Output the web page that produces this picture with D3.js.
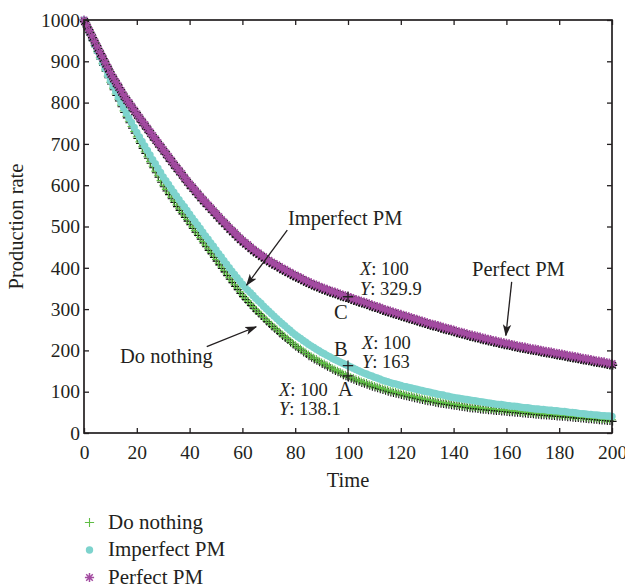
<!DOCTYPE html>
<html>
<head>
<meta charset="utf-8">
<script src="https://cdn.jsdelivr.net/npm/d3@7"></script>
<style>
  html, body { margin: 0; padding: 0; background: #fff; }
  svg { display: block; }
  text { font-family: "Liberation Serif", "Times New Roman", serif; fill: #231f20; }
</style>
</head>
<body>
<svg id="chart" width="625" height="588"></svg>
<script>
// Tick values
const xTicks = [0, 20, 40, 60, 80, 100, 120, 140, 160, 180, 200];
const yTicks = [0, 100, 200, 300, 400, 500, 600, 700, 800, 900, 1000];

// Production rate per unit of time, t = 0 .. 200
const doNothing = [
  1000, 985, 970, 954, 939, 924, 909, 894, 879, 864,
  849, 835, 821, 808, 794, 780, 767, 755, 742, 730,
  717, 705, 693, 681, 669, 657, 646, 634, 623, 611,
  600, 590, 581, 571, 562, 552, 543, 534, 526, 517,
  508, 499, 490, 482, 473, 464, 455, 446, 438, 429,
  420, 411, 402, 394, 385, 376, 368, 359, 351, 342,
  334, 327, 320, 313, 306, 299, 293, 287, 280, 274,
  268, 262, 256, 251, 245, 239, 234, 229, 223, 218,
  213, 208, 204, 199, 195, 190, 186, 182, 179, 175,
  171, 168, 164, 161, 157, 154, 151, 148, 144, 141,
  138.1, 135, 133, 130, 128, 125, 123, 121, 118, 116,
  114, 112, 110, 108, 106, 104, 102, 101, 99, 98,
  96, 94, 93, 91, 90, 88, 87, 85, 84, 82,
  81, 80, 79, 77, 76, 75, 74, 73, 72, 71,
  70, 69, 68, 67, 66, 65, 64, 63, 63, 62,
  61, 60, 60, 59, 59, 58, 57, 57, 56, 56,
  55, 54, 54, 53, 53, 52, 51, 51, 50, 50,
  49, 48, 48, 47, 47, 46, 46, 45, 45, 44,
  44, 43, 43, 42, 42, 41, 40, 40, 39, 39,
  38, 37, 37, 36, 36, 35, 34, 34, 33, 33,
  32
];

const imperfectPM = [
  1000, 985, 970, 955, 940, 925, 911, 896, 882, 867,
  853, 840, 827, 813, 800, 787, 775, 763, 752, 740,
  728, 717, 706, 695, 684, 673, 662, 652, 641, 631,
  620, 611, 602, 592, 583, 574, 565, 556, 548, 539,
  530, 521, 512, 504, 495, 486, 477, 469, 460, 452,
  443, 434, 426, 417, 409, 400, 392, 384, 376, 368,
  360, 353, 346, 340, 333, 326, 320, 314, 307, 301,
  295, 289, 283, 277, 271, 265, 260, 254, 249, 243,
  238, 233, 229, 224, 220, 215, 211, 207, 203, 199,
  195, 192, 188, 185, 181, 178, 175, 172, 169, 166,
  163, 160, 157, 154, 151, 148, 145, 143, 140, 138,
  135, 133, 131, 128, 126, 124, 122, 120, 119, 117,
  115, 113, 112, 110, 109, 107, 106, 104, 103, 101,
  100, 99, 97, 96, 94, 93, 92, 90, 89, 87,
  86, 85, 84, 83, 82, 81, 80, 79, 78, 77,
  76, 75, 74, 73, 72, 71, 70, 69, 69, 68,
  67, 66, 65, 65, 64, 63, 62, 61, 61, 60,
  59, 58, 58, 57, 57, 56, 55, 55, 54, 54,
  53, 52, 52, 51, 50, 50, 49, 48, 47, 47,
  46, 45, 45, 44, 44, 43, 42, 42, 41, 41,
  40
];

const perfectPM = [
  1000, 987, 974, 961, 948, 935, 922, 910, 897, 885,
  872, 861, 850, 840, 829, 818, 809, 800, 791, 782,
  773, 764, 755, 747, 738, 729, 720, 712, 703, 695,
  686, 678, 669, 661, 652, 644, 636, 628, 619, 611,
  603, 596, 588, 581, 573, 566, 559, 552, 545, 538,
  531, 524, 517, 511, 504, 497, 491, 485, 478, 472,
  466, 461, 456, 450, 445, 440, 436, 431, 427, 422,
  418, 414, 410, 407, 403, 399, 396, 392, 389, 385,
  382, 379, 376, 372, 369, 366, 363, 360, 358, 355,
  352, 350, 348, 345, 343, 341, 339, 336, 334, 332,
  329.9, 328, 325, 323, 321, 319, 317, 315, 312, 310,
  308, 306, 304, 301, 299, 297, 295, 293, 291, 289,
  287, 285, 283, 281, 279, 277, 275, 273, 271, 269,
  267, 265, 263, 262, 260, 258, 256, 254, 253, 251,
  249, 247, 245, 244, 242, 240, 238, 237, 235, 234,
  232, 230, 229, 227, 226, 224, 223, 221, 220, 218,
  217, 216, 214, 213, 211, 210, 209, 208, 206, 205,
  204, 203, 202, 200, 199, 198, 197, 196, 194, 193,
  192, 191, 190, 188, 187, 186, 185, 184, 182, 181,
  180, 179, 178, 176, 175, 174, 173, 172, 170, 169,
  168
];

const time = d3.range(0, doNothing.length);
const probeTime = 100;

const svg = d3.select("#chart");
const ink = "#231f20";
const colGreen = "#5fbd45";
const colCyan = "#7dd3cd";
const colPurple = "#a34ba1";

const margin = { left: 84, right: 13, top: 20, bottom: 155 };
const W = 625, H = 588;
const x = d3.scaleLinear().domain([0, 200]).range([margin.left, W - margin.right]);
const y = d3.scaleLinear().domain([0, 1000]).range([H - margin.bottom, margin.top]);

// marker shapes
const plusPath = r => `M${-r},0H${r}M0,${-r}V${r}`;
const starPath = (r, d) => `M${-r},0H${r}M0,${-r}V${r}M${-d},${-d}L${d},${d}M${-d},${d}L${d},${-d}`;

function drawSeries(values, opts) {
  const g = svg.append("g");
  if (opts.shadow) {
    g.append("g").attr("transform", "translate(0.6,1.6)")
      .selectAll("path").data(time).join("path")
      .attr("transform", t => `translate(${x(t)},${y(values[t])})`)
      .attr("d", opts.path)
      .attr("fill", "none").attr("stroke", "#111").attr("stroke-width", opts.sw);
  }
  if (opts.circle) {
    g.selectAll("circle").data(time).join("circle")
      .attr("cx", t => x(t)).attr("cy", t => y(values[t]))
      .attr("r", opts.r).attr("fill", opts.color);
  } else {
    g.append("g").selectAll("path").data(time).join("path")
      .attr("transform", t => `translate(${x(t)},${y(values[t])})`)
      .attr("d", opts.path)
      .attr("fill", "none").attr("stroke", opts.color).attr("stroke-width", opts.sw);
  }
}

drawSeries(doNothing, { path: plusPath(4), color: colGreen, sw: 1.1, shadow: true });
drawSeries(imperfectPM, { circle: true, r: 3.7, color: colCyan });
drawSeries(perfectPM, { path: starPath(4.6, 3.3), color: colPurple, sw: 1.5, shadow: true });

// axes with inward ticks on all four sides
const tickFont = "19.5px";
const gB = svg.append("g").attr("transform", `translate(0,${y(0)})`)
  .call(d3.axisBottom(x).tickValues(xTicks).tickSizeInner(-5).tickSizeOuter(0).tickPadding(12).tickFormat(d3.format("d")));
const gT = svg.append("g").attr("transform", `translate(0,${y(1000)})`)
  .call(d3.axisTop(x).tickValues(xTicks).tickSizeInner(-5).tickSizeOuter(0).tickFormat(""));
const gL = svg.append("g").attr("transform", `translate(${x(0)},0)`)
  .call(d3.axisLeft(y).tickValues(yTicks).tickSizeInner(-5).tickSizeOuter(0).tickPadding(4).tickFormat(d3.format("d")));
const gR = svg.append("g").attr("transform", `translate(${x(200)},0)`)
  .call(d3.axisRight(y).tickValues(yTicks).tickSizeInner(-5).tickSizeOuter(0).tickFormat(""));
[gB, gT, gL, gR].forEach(g => {
  g.select(".domain").remove();
  g.selectAll(".tick line").attr("stroke", ink).attr("stroke-width", 1.3);
  g.selectAll(".tick text").attr("fill", ink)
    .style("font-family", '"Liberation Serif", "Times New Roman", serif')
    .style("font-size", tickFont);
});

svg.append("rect")
  .attr("x", x(0)).attr("y", y(1000))
  .attr("width", x(200) - x(0)).attr("height", y(0) - y(1000))
  .attr("fill", "none").attr("stroke", ink).attr("stroke-width", 1.7);

// axis titles
svg.append("text").attr("x", (x(0) + x(200)) / 2).attr("y", 487)
  .attr("text-anchor", "middle").style("font-size", "20.5px").text("Time");
svg.append("text")
  .attr("transform", `translate(23,${(y(0) + y(1000)) / 2}) rotate(-90)`)
  .attr("text-anchor", "middle").style("font-size", "20.5px").text("Production rate");

// arrows
const defs = svg.append("defs");
defs.append("marker").attr("id", "head")
  .attr("markerUnits", "userSpaceOnUse")
  .attr("viewBox", "0 -5 12 10").attr("refX", 11).attr("refY", 0)
  .attr("markerWidth", 12).attr("markerHeight", 10).attr("orient", "auto")
  .append("path").attr("d", "M0,-4.2L12,0L0,4.2L3,0Z").attr("fill", ink);

const arrows = [
  { from: [77, 491], to: [61.6, 358] },   // Imperfect PM
  { from: [46.5, 209], to: [65.2, 257] }, // Do nothing
  { from: [162, 366], to: [159.8, 236] }  // Perfect PM
];
svg.append("g").selectAll("line").data(arrows).join("line")
  .attr("x1", d => x(d.from[0])).attr("y1", d => y(d.from[1]))
  .attr("x2", d => x(d.to[0])).attr("y2", d => y(d.to[1]))
  .attr("stroke", ink).attr("stroke-width", 1.3)
  .attr("marker-end", "url(#head)");

const labelFont = "20.5px";
svg.append("text").attr("x", 288).attr("y", 225).style("font-size", labelFont).text("Imperfect PM");
svg.append("text").attr("x", 120).attr("y", 363).style("font-size", labelFont).text("Do nothing");
svg.append("text").attr("x", 472).attr("y", 276).style("font-size", labelFont).text("Perfect PM");

// data cursors at t = 100: a cross on the curve and a two-line readout
const probeFont = "18.5px";
const lineGap = 19.5;
const probes = [
  { v: perfectPM[probeTime], letter: "C", lx: 334, ly: 318.5, tx: 360, ty: 275 },
  { v: imperfectPM[probeTime], letter: "B", lx: 334, ly: 356, tx: 362, ty: 348.5 },
  { v: doNothing[probeTime], letter: "A", lx: 338, ly: 395.5, tx: 279, ty: 395.5 }
];
const pg = svg.append("g");
probes.forEach(p => {
  pg.append("path")
    .attr("transform", `translate(${x(probeTime)},${y(p.v)})`)
    .attr("d", plusPath(5.2))
    .attr("fill", "none").attr("stroke", ink).attr("stroke-width", 1.3);
  pg.append("text").attr("x", p.lx).attr("y", p.ly).style("font-size", labelFont).text(p.letter);
  const t1 = pg.append("text").attr("x", p.tx).attr("y", p.ty).style("font-size", probeFont);
  t1.append("tspan").style("font-style", "italic").text("X");
  t1.append("tspan").text(": " + probeTime);
  const t2 = pg.append("text").attr("x", p.tx).attr("y", p.ty + lineGap).style("font-size", probeFont);
  t2.append("tspan").style("font-style", "italic").text("Y");
  t2.append("tspan").text(": " + p.v);
});

// legend
const legend = [
  { name: "Do nothing", kind: "plus", color: colGreen },
  { name: "Imperfect PM", kind: "circle", color: colCyan },
  { name: "Perfect PM", kind: "star", color: colPurple }
];
const lg = svg.append("g");
legend.forEach((d, i) => {
  const cy = 522.5 + i * 27.5;
  if (d.kind === "circle") {
    lg.append("circle").attr("cx", 89.5).attr("cy", cy).attr("r", 3.7).attr("fill", d.color);
  } else {
    lg.append("path").attr("transform", `translate(89.5,${cy})`)
      .attr("d", d.kind === "plus" ? plusPath(4.6) : starPath(4.6, 3.3))
      .attr("fill", "none").attr("stroke", d.color).attr("stroke-width", d.kind === "plus" ? 1.1 : 1.5);
  }
  lg.append("text").attr("x", 108).attr("y", cy + 6).style("font-size", "21px").text(d.name);
});
</script>
</body>
</html>
